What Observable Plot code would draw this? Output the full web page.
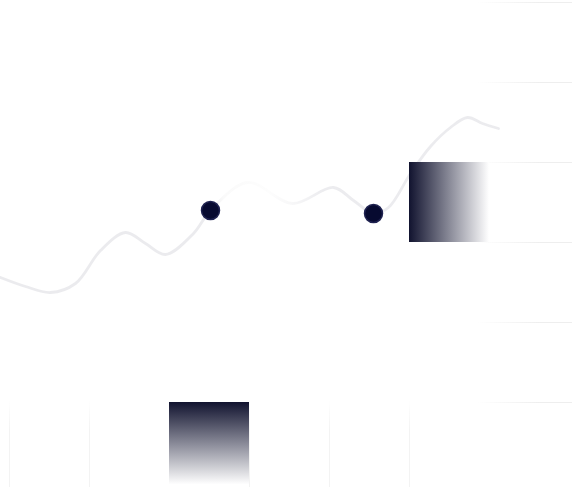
<!DOCTYPE html>
<html>
<head>
<meta charset="utf-8">
<script src="https://cdn.jsdelivr.net/npm/d3@7"></script>
<script src="https://cdn.jsdelivr.net/npm/@observablehq/plot@0.6"></script>
<style>
  html, body { margin: 0; padding: 0; background: #fff; }
  #chart svg { display: block; }
</style>
</head>
<body>
<div id="chart"></div>
<script>
// ---------- data (pixel-space units) ----------
const curveX = [0, 25, 50, 75, 100, 125, 145, 165, 193, 210, 247, 292, 333, 353, 373, 388, 410, 430, 450, 467, 482, 498];
const curveY = [277, 286, 292, 283, 250, 232, 243, 254, 233, 210, 182, 203, 187, 200, 213, 207, 173, 146, 127, 117, 123, 128];

const dotX = [210, 373];
const dotY = [210, 213];

// gradient squares
const boxX1 = [409, 169];
const boxX2 = [489, 249];
const boxY1 = [162, 402];
const boxY2 = [242, 487];
const boxFill = ["url(#fadeRight)", "url(#fadeDown)"];

// faint grid, 80px cells
const gridRowsY = [2, 82, 162, 242, 322, 402];
const gridColsX = [9, 89, 169, 249, 329, 409];

const curve = curveX.map((x, i) => ({x, y: curveY[i]}));
const dots = dotX.map((x, i) => ({x, y: dotY[i]}));
const boxes = boxX1.map((x1, i) => ({x1, x2: boxX2[i], y1: boxY1[i], y2: boxY2[i], fill: boxFill[i]}));

// gradient defs, added as a function mark
const defs = () => {
  const ns = "http://www.w3.org/2000/svg";
  const g = document.createElementNS(ns, "defs");
  g.innerHTML = `
    <linearGradient id="curveFade" gradientUnits="userSpaceOnUse" x1="0" y1="0" x2="572" y2="0">
      <stop offset="0" stop-color="#ebebee"/>
      <stop offset="0.362" stop-color="#ebebee"/>
      <stop offset="0.39" stop-color="#fafafa"/>
      <stop offset="0.47" stop-color="#fdfdfd"/>
      <stop offset="0.51" stop-color="#f7f7f8"/>
      <stop offset="0.565" stop-color="#ececef"/>
      <stop offset="1" stop-color="#ebebee"/>
    </linearGradient>
    <linearGradient id="fadeRight" x1="0" y1="0" x2="1" y2="0">
      <stop offset="0" stop-color="#11132f"/>
      <stop offset="1" stop-color="#ffffff"/>
    </linearGradient>
    <linearGradient id="fadeDown" x1="0" y1="0" x2="0" y2="1">
      <stop offset="0" stop-color="#11132f"/>
      <stop offset="0.97" stop-color="#ffffff"/>
    </linearGradient>
    <linearGradient id="gridH" gradientUnits="userSpaceOnUse" x1="477" y1="0" x2="540" y2="0">
      <stop offset="0" stop-color="#ffffff"/>
      <stop offset="1" stop-color="#eeeeee"/>
    </linearGradient>
    <linearGradient id="gridV" gradientUnits="userSpaceOnUse" x1="0" y1="400" x2="0" y2="430">
      <stop offset="0" stop-color="#ffffff"/>
      <stop offset="1" stop-color="#f3f3f3"/>
    </linearGradient>`;
  return g;
};

const chart = Plot.plot({
  width: 572, height: 487,
  margin: 0,
  x: {domain: [0, 572], range: [0, 572], axis: null},
  y: {domain: [0, 487], range: [0, 487], axis: null},
  marks: [
    defs,
    // grid fragments
    Plot.ruleY(gridRowsY, {y: d => d, x1: 477, x2: 572, stroke: "url(#gridH)", strokeWidth: 1}),
    Plot.ruleX(gridColsX, {x: d => d, y1: 400, y2: 487, stroke: "url(#gridV)", strokeWidth: 1}),
    // wavy line
    Plot.line(curve, {x: "x", y: "y", curve: "catmull-rom", stroke: "url(#curveFade)", strokeWidth: 2.8}),
    // gradient squares
    Plot.rect(boxes, {x1: "x1", x2: "x2", y1: "y1", y2: "y2", fill: d => d.fill}),
    // dots
    Plot.dot(dots, {x: "x", y: "y", r: 9, fill: "#070a30", stroke: "#1f2250", strokeWidth: 1.5})
  ]
});
document.getElementById("chart").appendChild(chart);
</script>
</body>
</html>
